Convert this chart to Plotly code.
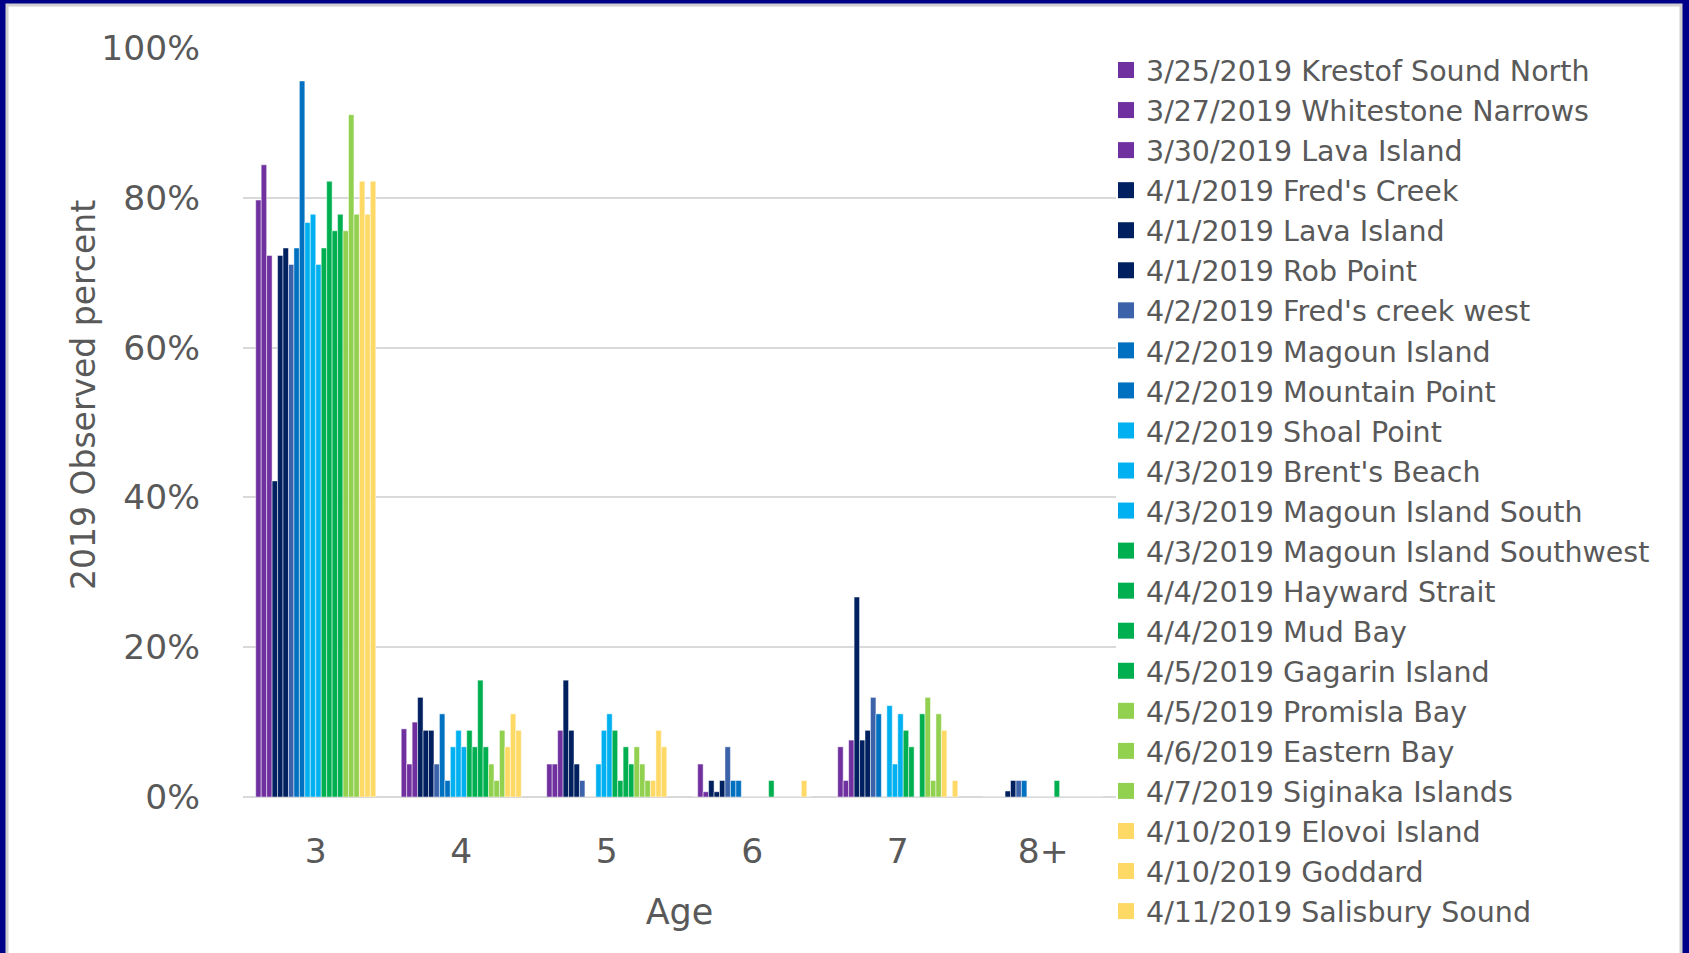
import plotly.graph_objects as go

# Ages on the x axis
ages = ["3", "4", "5", "6", "7", "8+"]

# sample names (legend order)
samples = [
    "3/25/2019 Krestof Sound North",
    "3/27/2019 Whitestone Narrows",
    "3/30/2019 Lava Island",
    "4/1/2019 Fred's Creek",
    "4/1/2019 Lava Island",
    "4/1/2019 Rob Point",
    "4/2/2019 Fred's creek west",
    "4/2/2019 Magoun Island",
    "4/2/2019 Mountain Point",
    "4/2/2019 Shoal Point",
    "4/3/2019 Brent's Beach",
    "4/3/2019 Magoun Island South",
    "4/3/2019 Magoun Island Southwest",
    "4/4/2019 Hayward Strait",
    "4/4/2019 Mud Bay",
    "4/5/2019 Gagarin Island",
    "4/5/2019 Promisla Bay",
    "4/6/2019 Eastern Bay",
    "4/7/2019 Siginaka Islands",
    "4/10/2019 Elovoi Island",
    "4/10/2019 Goddard",
    "4/11/2019 Salisbury Sound",
]

# observed percent by age, one value per sample (same order as samples)
age3 = [79.7, 84.4, 72.3, 42.2, 72.3, 73.3, 71.1, 73.3, 95.6, 76.7, 77.8,
        71.1, 73.3, 82.2, 75.6, 77.8, 75.6, 91.1, 77.8, 82.2, 77.8, 82.2]
age4 = [9.1, 4.4, 10.0, 13.3, 8.9, 8.9, 4.4, 11.1, 2.2, 6.7, 8.9,
        6.7, 8.9, 6.7, 15.6, 6.7, 4.4, 2.2, 8.9, 6.7, 11.1, 8.9]
age5 = [4.4, 4.4, 8.9, 15.6, 8.9, 4.4, 2.2, 0, 0, 4.4, 8.9,
        11.1, 8.9, 2.2, 6.7, 4.4, 6.7, 4.4, 2.2, 2.2, 8.9, 6.7]
age6 = [0, 4.4, 0.7, 2.2, 0.7, 2.2, 6.7, 2.2, 2.2, 0, 0,
        0, 0, 0, 2.2, 0, 0, 0, 0, 0, 2.2, 0]
age7 = [6.7, 2.2, 7.6, 26.7, 7.6, 8.9, 13.3, 11.1, 0, 12.2, 4.4,
        11.1, 8.9, 6.7, 0, 11.1, 13.3, 2.2, 11.1, 8.9, 0, 2.2]
age8 = [0, 0, 0, 0, 0.8, 2.2, 2.2, 2.2, 0, 0, 0,
        0, 0, 2.2, 0, 0, 0, 0, 0, 0, 0, 0]

by_age = [age3, age4, age5, age6, age7, age8]

purple, navy, slate, blue = "#7030A0", "#002060", "#3C62AA", "#0070C0"
ltblue, green, ltgreen, yellow = "#00B0F0", "#00B050", "#92D050", "#FFD966"
colors = [purple] * 3 + [navy] * 3 + [slate] + [blue] * 2 + [ltblue] * 3 \
    + [green] * 4 + [ltgreen] * 3 + [yellow] * 3

grey = "#595959"
font = "DejaVu Sans"

fig = go.Figure()
for i, name in enumerate(samples):
    vals = [a[i] for a in by_age]
    fig.add_trace(go.Bar(
        x=ages, y=vals, name=name, legendgroup=name, showlegend=False,
        marker=dict(color=colors[i], line=dict(color="rgba(255,255,255,0.6)", width=0.8)),
    ))
    # legend entry with a larger square
    fig.add_trace(go.Scatter(
        x=[None], y=[None], mode="markers", name=name, legendgroup=name,
        marker=dict(symbol="square", size=16, color=colors[i]),
    ))

# plot area: x 243..1116 px, y 48..797 px
L, T, W, H = 243, 48, 873, 749
def px(x): return (x - L) / W
def py(y): return (T + H - y) / H

fig.add_shape(type="rect", xref="paper", yref="paper", layer="below",
              x0=px(7), x1=px(1681), y0=py(965), y1=py(5),
              fillcolor="white", line=dict(color="#D0D0D0", width=3))

# y axis title, placed a little above the plot centre as in the original
fig.add_annotation(text="2019 Observed percent", textangle=-90, showarrow=False,
                   xref="paper", yref="paper", x=px(83), y=py(395),
                   xanchor="center", yanchor="middle",
                   font=dict(size=33, color=grey, family=font))

fig.update_layout(
    width=1689, height=953,
    margin=dict(l=L, r=1689 - L - W, t=T, b=953 - T - H),
    paper_bgcolor="#000088", plot_bgcolor="white",
    barmode="group", bargap=0.175, bargroupgap=0,
    font=dict(family=font, color=grey),
    legend=dict(x=px(1106), xanchor="left", y=py(45), yanchor="top",
                font=dict(size=28.5, color=grey, family=font),
                bgcolor="rgba(0,0,0,0)", tracegroupgap=0, itemclick=False,
                maxheight=953),
    xaxis=dict(type="category", showgrid=False, ticks="", ticklabelstandoff=30,
               tickfont=dict(size=34.5, color=grey),
               title=dict(text="Age", font=dict(size=35, color=grey), standoff=29),
               showline=False, fixedrange=True),
    yaxis=dict(range=[0, 100], dtick=20, ticksuffix="%", showgrid=True,
               gridcolor="#D9D9D9", gridwidth=2, zeroline=True,
               zerolinecolor="#D9D9D9", zerolinewidth=2, ticks="",
               ticklabelstandoff=42, tickfont=dict(size=34.5, color=grey),
               fixedrange=True),
)

fig.write_html("out.html", config={"displayModeBar": False},
               post_script="document.body.style.margin='0';document.body.style.overflow='hidden';")
